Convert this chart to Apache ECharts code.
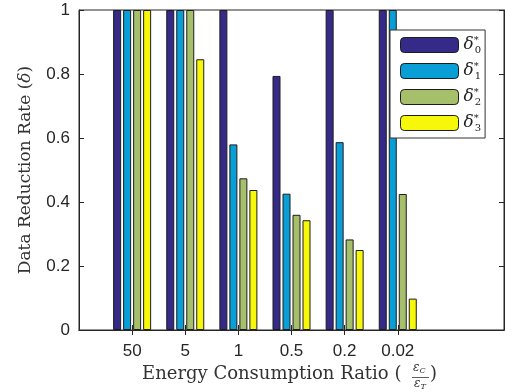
<!DOCTYPE html>
<html>
<head>
<meta charset="utf-8">
<script src="https://cdn.jsdelivr.net/npm/echarts@6/dist/echarts.min.js"></script>
<style>
    html, body { margin: 0; padding: 0; background: #fff; }
    #chart { width: 505px; height: 392px; }
</style>
</head>
<body>
<div id="chart"></div>
<script>
// categories on a 0..8 band axis, the real groups sit on 1..6
const categories = ['', '50', '5', '1', '0.5', '0.2', '0.02', '', ''];
const delta0 = [null, 1, 1, 1, 0.794, 1, 1, null, null];
const delta1 = [null, 1, 1, 0.58, 0.426, 0.587, 1, null, null];
const delta2 = [null, 1, 1, 0.474, 0.36, 0.283, 0.425, null, null];
const delta3 = [null, 1, 0.846, 0.4375, 0.343, 0.25, 0.098, null, null];
const seriesNames = ['d0', 'd1', 'd2', 'd3'];
const yTicks = [0, 0.2, 0.4, 0.6, 0.8, 1];

const colors = ['#352a87', '#0a9ed6', '#a5bf6b', '#f7f70a'];
const axisColor = '#262626';
const textColor = '#333';
const serif = 'DejaVu Serif';
const sans = 'Liberation Sans';

const onCategory = (idx, val) => val !== '';

const makeBar = (name, data, i) => ({
    name: name,
    type: 'bar',
    data: data,
    barWidth: 8,
    barGap: '25%',
    xAxisIndex: 0,
    yAxisIndex: 0,
    itemStyle: {
        color: colors[i],
        borderColor: '#1c1c1c',
        borderWidth: 1,
    },
    emphasis: { disabled: true },
});

// little ε with a subscript, used for the fraction in the x title
const fracRich = {
    e: { fontFamily: serif, fontStyle: 'italic', fontSize: 12, fill: textColor },
    s: { fontFamily: serif, fontStyle: 'italic', fontSize: 8, fill: textColor, padding: [5, 0, 0, 0] },
};

const option = {
    animation: false,
    grid: {
        left: 79,
        right: 1,
        top: 10,
        bottom: 62,
        show: true,
        borderColor: axisColor,
        borderWidth: 1,
    },
    legend: {
        orient: 'vertical',
        left: 390,
        top: 30,
        padding: [5, 4, 5, 10],
        itemWidth: 58,
        itemHeight: 15,
        itemGap: 6,
        backgroundColor: '#fff',
        borderColor: '#333',
        borderWidth: 1,
        borderRadius: 0,
        itemStyle: { borderColor: '#1c1c1c', borderWidth: 1 },
        data: seriesNames,
        formatter: (name) => {
            const i = seriesNames.indexOf(name);
            return '{d|δ}{sp|*}{sb|' + i + '}';
        },
        textStyle: {
            rich: {
                d: { fontFamily: serif, fontStyle: 'italic', fontSize: 17, color: '#222', lineHeight: 20 },
                sp: { fontFamily: serif, fontSize: 10, color: '#222', width: 1, lineHeight: 10, verticalAlign: 'top', padding: [0, 0, 4, 0] },
                sb: { fontFamily: serif, fontSize: 10, color: '#222', lineHeight: 10, verticalAlign: 'bottom', padding: [6, 0, 0, 0] },
            },
        },
    },
    xAxis: [
        {
            type: 'category',
            data: categories,
            boundaryGap: false,
            axisLine: { show: true, lineStyle: { color: axisColor } },
            axisTick: { show: true, inside: true, length: 5, interval: onCategory, lineStyle: { color: axisColor } },
            axisLabel: { interval: onCategory, color: axisColor, fontFamily: sans, fontSize: 17, margin: 13 },
            splitLine: { show: false },
        },
        {
            type: 'category',
            data: categories,
            position: 'top',
            boundaryGap: false,
            axisLine: { show: true, lineStyle: { color: axisColor } },
            axisTick: { show: true, inside: true, length: 5, interval: onCategory, lineStyle: { color: axisColor } },
            axisLabel: { show: false },
            splitLine: { show: false },
        },
    ],
    yAxis: [
        {
            type: 'value',
            min: yTicks[0],
            max: yTicks[yTicks.length - 1],
            interval: 0.2,
            name: '{a|Data Reduction Rate (}{b|δ}{a|)}',
            nameLocation: 'middle',
            nameGap: 45,
            nameTextStyle: {
                rich: {
                    a: { fontFamily: serif, fontSize: 17, color: textColor },
                    b: { fontFamily: serif, fontStyle: 'italic', fontSize: 17, color: textColor },
                },
            },
            axisLine: { show: true, lineStyle: { color: axisColor } },
            axisTick: { show: true, inside: true, length: 5, lineStyle: { color: axisColor } },
            axisLabel: { color: axisColor, fontFamily: sans, fontSize: 17, margin: 9 },
            splitLine: { show: false },
        },
        {
            type: 'value',
            min: yTicks[0],
            max: yTicks[yTicks.length - 1],
            interval: 0.2,
            position: 'right',
            axisLine: { show: true, lineStyle: { color: axisColor } },
            axisTick: { show: true, inside: true, length: 5, lineStyle: { color: axisColor } },
            axisLabel: { show: false },
            splitLine: { show: false },
        },
    ],
    graphic: [
        {
            type: 'text',
            left: 142,
            top: 365,
            style: {
                text: 'Energy Consumption Ratio (',
                font: '18px "DejaVu Serif"',
                fill: textColor,
            },
        },
        {
            type: 'text',
            left: 413,
            top: 362,
            style: { text: '{e|ε}{s|C}', rich: fracRich },
        },
        {
            type: 'line',
            shape: { x1: 412, y1: 377.5, x2: 429, y2: 377.5 },
            style: { stroke: textColor, lineWidth: 0.8 },
        },
        {
            type: 'text',
            left: 414,
            top: 378,
            style: { text: '{e|ε}{s|T}', rich: fracRich },
        },
        {
            type: 'text',
            left: 430,
            top: 365,
            style: {
                text: ')',
                font: '18px "DejaVu Serif"',
                fill: textColor,
            },
        },
    ],
    series: [
        makeBar('d0', delta0, 0),
        makeBar('d1', delta1, 1),
        makeBar('d2', delta2, 2),
        makeBar('d3', delta3, 3),
    ],
};

const myChart = echarts.init(document.getElementById('chart'), null, { renderer: 'canvas' });
myChart.setOption(option);
</script>
</body>
</html>
